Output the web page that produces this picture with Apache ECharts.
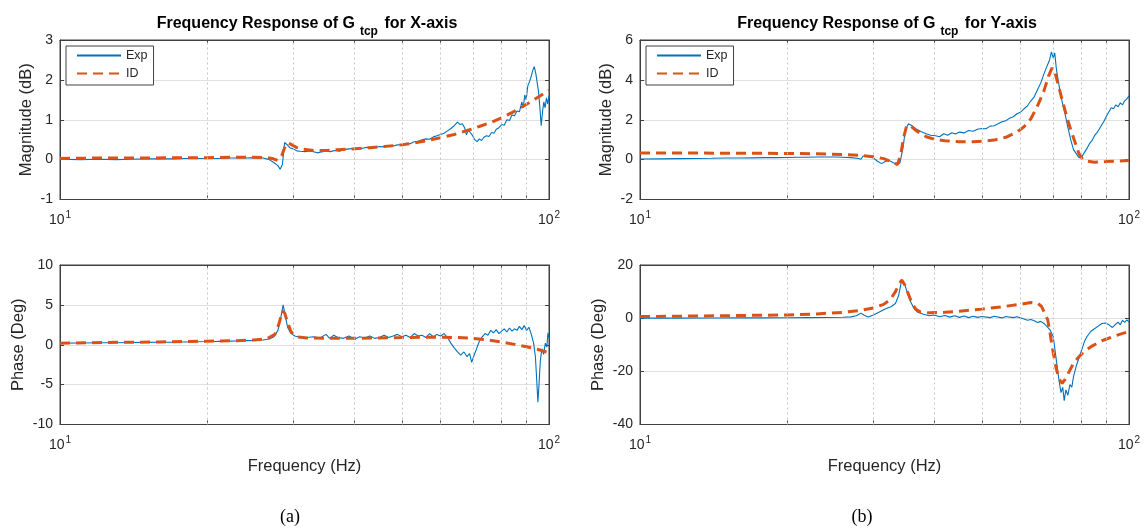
<!DOCTYPE html>
<html><head><meta charset="utf-8">
<script src="https://cdn.jsdelivr.net/npm/echarts@6/dist/echarts.min.js"></script>
<style>html,body{margin:0;padding:0;background:#fff}#c{width:1146px;height:532px}</style>
</head><body><div id="c"></div>
<script>
// ---------- data (frequency Hz, value) ----------
const minorTicks = [20,30,40,50,60,70,80,90];

const xMagExp = [[10,0.01],[11,0.0],[12,0.01],[13,0.0],[14,0.01],[15,0.02],[16,0.02],[17,0.02],[18,0.03],[19,0.03],[20,0.03],[21,0.03],[22,0.04],[23,0.04],[24,0.04],[25,0.05],[26,0.04],[26.8,0.0],[27.4,-0.08],[27.9,-0.15],[28.2,-0.24],[28.5,-0.12],[28.8,0.43],[29.1,0.38],[29.5,0.3],[30,0.27],[30.5,0.22],[31,0.21],[31.7,0.2],[32.3,0.22],[33,0.2],[33.6,0.17],[34.2,0.19],[35,0.21],[35.7,0.2],[36.5,0.23],[37.3,0.21],[38,0.25],[39,0.27],[40,0.28],[41,0.27],[42,0.3],[43,0.31],[44,0.3],[45,0.33],[46,0.32],[47,0.35],[48,0.34],[49,0.37],[50,0.38],[51,0.41],[52,0.40],[53,0.45],[54,0.46],[55,0.5],[56,0.52],[57,0.51],[58,0.57],[59,0.6],[60,0.63],[61,0.66],[62,0.72],[63,0.78],[64,0.85],[65,0.94],[65.8,0.88],[66.5,0.9],[67.2,0.8],[67.8,0.62],[68.4,0.74],[69,0.68],[69.8,0.6],[70.5,0.5],[71.3,0.45],[72,0.52],[72.8,0.48],[73.6,0.56],[74.5,0.6],[75.4,0.58],[76.3,0.68],[77.2,0.66],[78,0.76],[79,0.8],[80,0.88],[81,0.86],[82,1.0],[83,0.98],[84,1.12],[85,1.1],[86,1.22],[87,1.2],[88,1.45],[88.6,1.3],[89.2,1.62],[89.8,1.5],[90.5,1.85],[91.2,1.95],[92,2.1],[92.7,2.25],[93.3,2.33],[94,2.15],[94.6,2.1],[95.2,1.7],[95.8,1.3],[96.4,0.85],[97,1.2],[97.6,1.45],[98.2,1.3],[98.8,1.55],[99.4,1.4],[100,1.6]];
const xMagId = [[10,0.03],[12,0.04],[15,0.04],[18,0.05],[20,0.05],[23,0.06],[25,0.06],[26.5,0.05],[27.3,0.02],[27.9,-0.02],[28.4,0.1],[28.8,0.3],[29.2,0.42],[29.7,0.38],[30.5,0.3],[31.5,0.26],[33,0.23],[35,0.23],[37,0.25],[40,0.27],[43,0.3],[46,0.33],[50,0.37],[53,0.42],[56,0.47],[60,0.55],[64,0.63],[68,0.73],[72,0.83],[76,0.93],[80,1.05],[84,1.18],[88,1.32],[92,1.46],[96,1.6],[100,1.74]];

const xPhExp = [[10,0.2],[11,0.22],[12,0.25],[13,0.25],[14,0.28],[15,0.3],[16,0.32],[17,0.33],[18,0.35],[19,0.38],[20,0.4],[21,0.42],[22,0.45],[23,0.48],[24,0.52],[25,0.55],[26,0.6],[26.8,0.72],[27.4,1.0],[27.9,1.8],[28.3,3.5],[28.6,5.0],[28.9,3.6],[29.2,2.2],[29.6,1.5],[30.2,1.1],[31,0.95],[32,0.9],[33,1.0],[34,0.85],[35,1.3],[35.6,0.8],[36.3,1.2],[37,0.9],[38,0.8],[39,1.1],[40,0.7],[41,1.0],[42,0.85],[43,1.1],[44,0.8],[45,0.9],[46,1.2],[47,0.9],[48,1.1],[49,1.3],[50,1.0],[51,1.2],[52,0.9],[53,1.4],[54,1.1],[55,1.2],[56,0.9],[57,1.4],[58,1.0],[59,1.3],[60,1.1],[61,1.4],[62,0.9],[63,0.2],[64,-0.4],[65,-0.9],[66,-1.3],[67,-0.9],[68,-1.5],[68.8,-1.1],[69.5,-2.2],[70.2,-1.4],[71,-0.6],[72,0.4],[73,1.0],[74,1.4],[75,1.2],[76,1.8],[77,1.5],[78,1.9],[79,1.4],[80,1.7],[81,2.0],[82,1.6],[83,2.1],[84,1.7],[85,2.0],[86,1.8],[87,2.3],[88,1.9],[89,2.4],[90,1.8],[91,2.2],[92,1.3],[93,0.2],[93.8,-1.5],[94.4,-4.5],[94.9,-7.2],[95.4,-5.0],[96,-2.0],[96.7,-0.5],[97.5,-1.2],[98.3,0.2],[99,-0.3],[99.5,1.5],[100,0.8]];
const xPhId = [[10,0.2],[13,0.3],[16,0.35],[20,0.45],[23,0.5],[25,0.6],[26.5,0.75],[27.5,1.3],[28,2.5],[28.5,4.2],[28.8,4.0],[29.2,2.8],[29.7,1.6],[30.5,1.0],[32,0.85],[35,0.8],[40,0.8],[45,0.85],[50,0.9],[55,0.95],[60,0.95],[65,0.9],[70,0.8],[75,0.6],[80,0.35],[85,0.05],[90,-0.25],[95,-0.6],[100,-1.0]];

const yMagExp = [[10,0.03],[11,0.04],[12,0.05],[13,0.06],[14,0.07],[15,0.08],[16,0.08],[17,0.09],[18,0.1],[19,0.1],[20,0.11],[21,0.12],[22,0.12],[23,0.13],[24,0.13],[25,0.13],[26,0.12],[27,0.1],[28,0.06],[28.3,0.02],[28.6,0.18],[29.2,0.16],[30,0.08],[30.6,-0.08],[31.2,-0.2],[31.8,-0.08],[32.3,-0.04],[32.9,-0.14],[33.4,-0.22],[34,-0.18],[34.5,0.6],[34.9,1.5],[35.4,1.8],[36,1.7],[36.8,1.52],[37.6,1.4],[38.5,1.3],[39.3,1.22],[40.2,1.2],[41,1.15],[41.8,1.3],[42.6,1.22],[43.4,1.35],[44.2,1.28],[45,1.38],[46,1.34],[47,1.46],[48,1.42],[49,1.52],[50,1.56],[51,1.55],[52,1.68],[53,1.7],[54,1.8],[55,1.9],[56,1.95],[57,2.08],[58,2.15],[59,2.3],[60,2.38],[61,2.55],[62,2.7],[63,2.95],[64,3.15],[65,3.5],[66,3.85],[67,4.3],[68,4.7],[68.8,5.0],[69.4,5.4],[70,5.1],[70.5,5.35],[71,4.6],[71.6,4.0],[72.2,3.5],[73,2.9],[74,2.3],[75,1.6],[76,1.0],[77,0.5],[78,0.3],[79,0.1],[80,0.12],[81,0.35],[82,0.55],[83,0.8],[84,0.95],[85,1.2],[86,1.35],[87,1.55],[88,1.75],[89,1.95],[90,2.2],[91,2.4],[92,2.6],[93,2.55],[94,2.75],[95,2.65],[96,2.85],[97,2.75],[98,2.95],[99,3.05],[100,3.2]];
const yMagId = [[10,0.33],[13,0.33],[16,0.32],[20,0.31],[23,0.29],[26,0.26],[28,0.22],[30,0.15],[31.5,0.05],[32.8,-0.12],[33.6,-0.25],[34.1,0.2],[34.6,1.1],[35.1,1.7],[35.7,1.7],[36.5,1.5],[37.5,1.3],[38.5,1.15],[40,1.02],[42,0.95],[45,0.9],[48,0.9],[50,0.92],[53,0.98],[56,1.12],[59,1.38],[61,1.65],[63,2.05],[65,2.7],[67,3.45],[68.5,4.2],[69.6,4.6],[70.6,4.35],[71.6,3.8],[73,3.0],[74.5,2.2],[76,1.5],[77.5,0.9],[79,0.3],[80.5,0.0],[82,-0.08],[85,-0.13],[90,-0.1],[95,-0.07],[100,-0.05]];

const yPhExp = [[10,0],[12,0],[14,0.05],[16,0.1],[18,0.1],[20,0.15],[22,0.2],[24,0.25],[26,0.35],[27,0.5],[27.7,0.9],[28.3,1.9],[28.8,1.0],[29.3,0.4],[30,1.2],[31,2.5],[31.8,3.5],[32.6,4.3],[33.3,5.5],[33.8,8.5],[34.3,14.5],[34.8,12.5],[35.3,9],[35.8,6],[36.3,3.8],[37,2.2],[38,1.5],[39,0.9],[40,1.2],[41,0.5],[42,1.0],[43,0.4],[44,0.9],[45,0.3],[46,0.8],[47,0.2],[48,0.7],[49,0.3],[50,0.6],[52,0.2],[53,0.7],[55,0.1],[56,0.6],[58,0.2],[59,0.5],[60,0.1],[61,-0.3],[62,-0.8],[63,-0.5],[64,-1.0],[65,-1.6],[66,-1.2],[67,-2.0],[68,-3.2],[69,-4.5],[70,-7],[70.7,-13],[71.4,-19],[72,-24],[72.6,-28],[73.2,-26],[73.7,-31],[74.3,-27],[75,-29],[75.7,-25],[76.4,-26],[77,-22],[78,-18],[79,-15],[80,-12],[81,-9],[82,-7],[83.5,-5],[85,-4],[86.5,-3],[88,-2],[89.5,-1.8],[91,-2.5],[92.5,-3.5],[94,-2.2],[95,-1.5],[96,-2.5],[97,-0.8],[98,-1.6],[99,-0.6],[100,-1.5]];
const yPhId = [[10,0.6],[13,0.8],[16,1.0],[20,1.2],[23,1.6],[26,2.2],[28,2.8],[30,3.8],[31.5,5.2],[32.5,7],[33.3,10],[33.9,13],[34.3,14.3],[34.8,12.5],[35.4,9],[36,5.5],[36.7,3.2],[37.5,2.3],[39,2.0],[42,2.2],[45,2.6],[50,3.4],[55,4.3],[60,5.2],[63,5.9],[65,5.6],[66.2,4.5],[67.2,2.0],[68.2,-0.6],[69,-6],[70,-13],[71,-19],[72,-23],[73,-24.5],[74,-23],[75.5,-20],[77,-17],[79,-14.5],[81,-12.5],[84,-10.5],[88,-8.5],[92,-7.2],[96,-6],[100,-5]];

const yRanges = [[-1,3,1],[-2,6,2],[-10,10,5],[-40,20,20]];
const yNames = ['Magnitude (dB)','Magnitude (dB)','Phase (Deg)','Phase (Deg)'];
const titles = ['X-axis','Y-axis'];
const panelLabels = ['(a)','(b)'];

// ---------- layout ----------
const FONT = 'Liberation Sans, Arial, sans-serif';
const INK = '#262626';
const grids = [
  {left:60, top:40, width:489, height:159.5},
  {left:640, top:40, width:489, height:159.5},
  {left:60, top:265, width:489, height:159.5},
  {left:640, top:265, width:489, height:159.5}
];
const nameGaps = [25,25,33,33];
const seriesSets = [[xMagExp,xMagId],[yMagExp,yMagId],[xPhExp,xPhId],[yPhExp,yPhId]];

const xAxes = [], yAxes = [], series = [];
grids.forEach((g,i)=>{
  g.show = true; g.borderColor = '#404040'; g.borderWidth = 1; g.backgroundColor = '#fff';
  const tickStyle = {show:true, inside:true, length:4, lineStyle:{color:'#404040'}, customValues:minorTicks};
  xAxes.push({
    type:'log', logBase:10, min:10, max:100, gridIndex:i, position:'bottom',
    name: i>=2 ? 'Frequency (Hz)' : '', nameLocation:'middle', nameGap:33,
    nameTextStyle:{fontFamily:FONT, fontSize:16.5, color:INK},
    axisLine:{show:true, onZero:false, lineStyle:{color:'#404040'}},
    axisTick:tickStyle,
    splitLine:{show:false},
    axisLabel:{fontFamily:FONT, color:INK, margin:11,
      formatter:v=>'{b|10}{p|'+Math.round(Math.log10(v))+'}',
      rich:{b:{fontFamily:FONT,fontSize:14,color:INK}, p:{fontFamily:FONT,fontSize:10,color:INK,padding:[0,0,10,1]}}}
  });
  xAxes.push({
    type:'log', logBase:10, min:10, max:100, gridIndex:i, position:'top',
    axisLine:{show:true, onZero:false, lineStyle:{color:'#404040'}},
    axisTick:tickStyle, splitLine:{show:false}, axisLabel:{show:false}
  });
  const r = yRanges[i];
  yAxes.push({
    type:'value', gridIndex:i, min:r[0], max:r[1], interval:r[2], position:'left',
    name: yNames[i], nameLocation:'middle', nameGap:nameGaps[i],
    nameTextStyle:{fontFamily:FONT, fontSize:16.5, color:INK},
    axisLine:{show:true, onZero:false, lineStyle:{color:'#404040'}},
    axisTick:{show:true, inside:true, length:4, lineStyle:{color:'#404040'}},
    splitLine:{show:true, lineStyle:{color:'#e0e0e0', width:1}},
    axisLabel:{fontFamily:FONT, fontSize:14, color:INK, margin:7}
  });
  yAxes.push({
    type:'value', gridIndex:i, min:r[0], max:r[1], interval:r[2], position:'right',
    axisLine:{show:true, onZero:false, lineStyle:{color:'#404040'}},
    axisTick:{show:true, inside:true, length:4, lineStyle:{color:'#404040'}},
    splitLine:{show:false}, axisLabel:{show:false}
  });
  // dotted minor grid lines at 20..90 Hz
  series.push({
    type:'line', xAxisIndex:2*i, yAxisIndex:2*i, data:[], silent:true, z:1,
    markLine:{silent:true, symbol:'none', label:{show:false}, animation:false,
      lineStyle:{type:[2,3], color:'#c4c4c4', width:1},
      data:minorTicks.map(v=>({xAxis:v}))}
  });
  const [exp,id] = seriesSets[i];
  series.push({name:'Exp', type:'line', xAxisIndex:2*i, yAxisIndex:2*i, data:exp, showSymbol:false, symbol:'none',
    lineStyle:{color:'#0072BD', width:1.1}, itemStyle:{color:'#0072BD'}, z:3, animation:false});
  series.push({name:'ID', type:'line', xAxisIndex:2*i, yAxisIndex:2*i, data:id, showSymbol:false, symbol:'none',
    lineStyle:{color:'#D95319', width:3, type:[10,6]}, itemStyle:{color:'#D95319'}, z:4, animation:false});
});

const legendBase = {
  orient:'vertical', top:46, itemWidth:44, itemHeight:14, itemGap:5,
  backgroundColor:'#fff', borderColor:'#404040', borderWidth:1, borderRadius:0, padding:[3,6,5,10],
  itemStyle:{opacity:0},
  textStyle:{fontFamily:FONT, fontSize:12.5, color:INK},
  data:['Exp','ID'], selectedMode:false
};

const titleOpts = titles.map((t,k)=>({
  text:'{a|Frequency Response of G}{s|tcp}{a| for '+t+'}',
  left: k===0 ? 302 : 882, top:9, textAlign:'center',
  textStyle:{rich:{
    a:{fontFamily:FONT, fontSize:16, fontWeight:'bold', color:'#000', lineHeight:20},
    s:{fontFamily:FONT, fontSize:12, fontWeight:'bold', color:'#000', padding:[15,2,0,5], lineHeight:20}
  }}
}));

const chart = echarts.init(document.getElementById('c'), null, {renderer:'canvas'});
chart.setOption({
  animation:false,
  backgroundColor:'#fff',
  title:titleOpts,
  grid:grids,
  xAxis:xAxes,
  yAxis:yAxes,
  legend:[Object.assign({left:66}, legendBase), Object.assign({left:646}, legendBase)],
  series:series,
  graphic:panelLabels.map((t,k)=>({type:'text', x: k===0 ? 290 : 862, y:517,
    style:{text:t, font:'18px "Liberation Serif", "Times New Roman", serif', fill:'#000', align:'center', verticalAlign:'middle'}}))
});
</script></body></html>
